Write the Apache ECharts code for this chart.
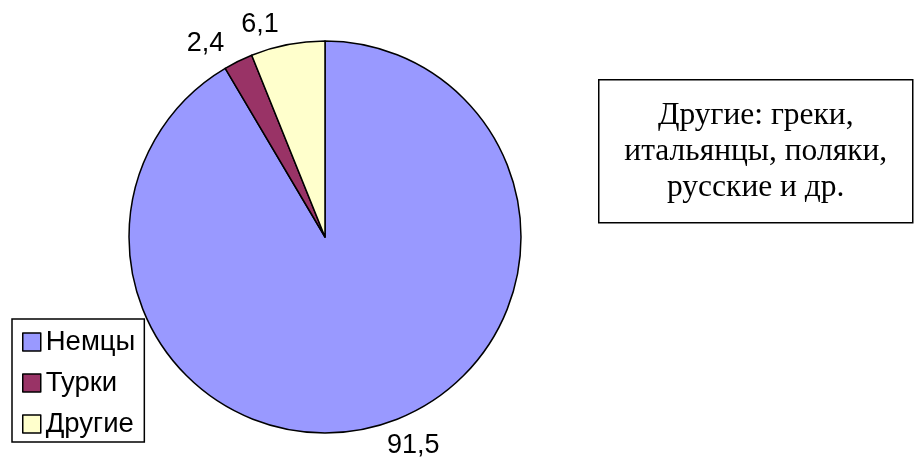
<!DOCTYPE html>
<html><head><meta charset="utf-8">
<script src="https://cdn.jsdelivr.net/npm/echarts@6/dist/echarts.min.js"></script>
<style>html,body{margin:0;padding:0;background:#fff}#c{width:915px;height:464px}</style>
</head><body><div id="c"></div>
<script>
var categories = ['Немцы', 'Турки', 'Другие'];
var values = [91.5, 2.4, 6.1];
var colors = ['#9999FF', '#993366', '#FFFFCC'];
var noteLines = ['Другие: греки,', 'итальянцы, поляки,', 'русские и др.'];

var chart = echarts.init(document.getElementById('c'));
var data = categories.map(function (n, i) {
  return { name: n, value: values[i], itemStyle: { color: colors[i] } };
});
chart.setOption({
  animation: false,
  backgroundColor: '#fff',
  legend: {
    orient: 'vertical',
    left: 12, top: 319,
    padding: [9, 9, 4, 10],
    itemGap: 13,
    itemWidth: 18, itemHeight: 18,
    icon: 'rect',
    backgroundColor: '#fff',
    borderColor: '#000', borderWidth: 1.5, borderRadius: 0,
    itemStyle: { borderColor: '#000', borderWidth: 1.5 },
    textStyle: { fontFamily: 'Liberation Sans, Arial', fontSize: 27.5, color: '#000' },
    data: categories
  },
  series: [{
    type: 'pie',
    center: [325, 237],
    radius: 196,
    startAngle: 90,
    clockwise: true,
    avoidLabelOverlap: false,
    itemStyle: { borderColor: '#000', borderWidth: 1.5 },
    label: {
      show: true, position: 'outside',
      formatter: function (p) { return String(p.value).replace('.', ','); },
      fontFamily: 'Liberation Sans, Arial', fontSize: 27, color: '#000'
    },
    labelLine: { show: false, length: 20, length2: 0 },
    emphasis: { disabled: true },
    data: data
  }],
  graphic: [{
    type: 'group', left: 598, top: 79,
    children: [
      { type: 'rect', shape: { x: 0, y: 0, width: 314, height: 143 },
        style: { fill: '#fff', stroke: '#000', lineWidth: 1.5 } },
      { type: 'text', x: 157, y: 71.5,
        style: { text: noteLines.join('\n'), fontFamily: 'Liberation Serif, Times New Roman', fontSize: 31.5,
          lineHeight: 36, fill: '#000', align: 'center', verticalAlign: 'middle' } }
    ]
  }]
});
</script></body></html>
